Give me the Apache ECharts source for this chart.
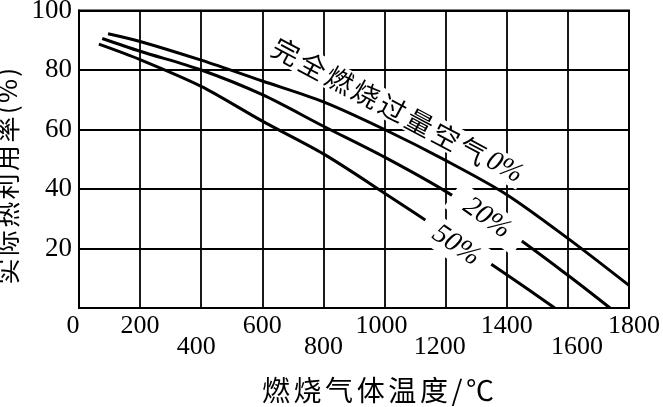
<!DOCTYPE html>
<html>
<head>
<meta charset="utf-8">
<script src="https://cdn.jsdelivr.net/npm/echarts@6/dist/echarts.min.js"></script>
<style>
html,body{margin:0;padding:0;background:#fff;}
#chart{width:663px;height:407px;}
</style>
</head>
<body>
<div id="chart"></div>
<script>
// ---- data ----
const xTicks = [0, 200, 400, 600, 800, 1000, 1200, 1400, 1600, 1800];
const xTicksLowerRow = [400, 800, 1200, 1600];
const yTicks = [20, 40, 60, 80, 100];

const excess0X = [95, 200, 400, 600, 800, 1000, 1200, 1400, 1600, 1800];
const excess0Y = [92.2, 89.6, 83.3, 76.3, 69.3, 60.0, 49.6, 38.1, 23.4, 7.6];

const excess20X = [76, 200, 400, 600, 800, 1000, 1200, 1413, 1600, 1738];
const excess20Y = [90.6, 86.3, 80.0, 71.7, 61.1, 50.7, 39.2, 25.1, 11.0, 0];

const excess50X = [65, 200, 400, 600, 800, 1000, 1200, 1400, 1557];
const excess50Y = [88.7, 83.5, 74.5, 62.8, 51.8, 38.6, 25.0, 11.2, 0];

const curveLabels = ['完全燃烧过量空气', '0%', '20%', '50%'];
const labelAnchorX = [1040, 1335, 1234];
const labelAnchorY = [66.4, 30.2, 21.0];

const xAxisTitle = '燃烧气体温度/℃';
const yAxisTitle = '实际热利用率(%)';

// ---- styling ----
const NUM_FONT = '"Liberation Serif", "Times New Roman", serif';
const CJK_FONT = '"Noto Sans CJK SC", sans-serif';
const xLabelShift = {0: -6, 400: -5, 1000: -3, 1200: -6, 1600: 9, 1800: 5};

const pairs = (xs, ys) => xs.map((x, i) => [x, ys[i]]);

const xRich = {};
xTicks.forEach(v => {
  const s = xLabelShift[v] || 0;
  xRich['t' + v] = {
    fontFamily: NUM_FONT, fontSize: 26, color: '#000',
    padding: [xTicksLowerRow.includes(v) ? 21 : 0, s < 0 ? -2 * s : 0, 0, s > 0 ? 2 * s : 0]
  };
});

function spaced(str, style) {
  return Array.from(str).map(c => '{' + style + '|' + c + '}').join('');
}

const chart = echarts.init(document.getElementById('chart'), null, {renderer: 'canvas'});

const lineStyleCurve = {color: '#000', width: 3};
const hiddenItem = {color: '#fff', opacity: 1};

const option = {
  backgroundColor: '#fff',
  animation: false,
  grid: {left: 79, right: 34, top: 10.5, bottom: 99, containLabel: false, outerBoundsMode: 'none',
         show: true, borderColor: '#000', borderWidth: 2},
  xAxis: {
    type: 'value', min: 0, max: 1800, interval: 200,
    axisLine: {show: true, lineStyle: {color: '#000', width: 2}},
    axisTick: {show: false},
    splitLine: {show: true, lineStyle: {color: '#000', width: 1.8}},
    axisLabel: {
      margin: 5,
      formatter: v => '{t' + v + '|' + v + '}',
      rich: xRich
    },
    name: spaced(xAxisTitle, 'n'),
    nameLocation: 'middle',
    nameGap: 68,
    nameTextStyle: {
      padding: [0, 0, 0, 48],
      rich: {n: {fontFamily: CJK_FONT, fontSize: 28, color: '#000', padding: [0, 1.8, 0, 1.8]}}
    }
  },
  yAxis: {
    type: 'value', min: 0, max: 100, interval: 20,
    axisLine: {show: true, lineStyle: {color: '#000', width: 2}},
    axisTick: {show: false},
    splitLine: {show: true, lineStyle: {color: '#000', width: 1.8}},
    axisLabel: {
      margin: 7,
      fontFamily: NUM_FONT, fontSize: 27, color: '#000',
      formatter: v => (yTicks.includes(v) ? String(v) : '')
    },
    name: spaced(yAxisTitle, 'n'),
    nameLocation: 'middle',
    nameGap: 49,
    nameTextStyle: {
      padding: [0, 34, 0, 0],
      rich: {n: {fontFamily: CJK_FONT, fontSize: 26, color: '#000', padding: [0, 1.2, 0, 1.2]}}
    }
  },
  series: [
    {type: 'line', data: pairs(excess0X, excess0Y), smooth: 0.3, symbol: 'none', lineStyle: lineStyleCurve, z: 2},
    {type: 'line', data: pairs(excess20X, excess20Y), smooth: 0.3, symbol: 'none', lineStyle: lineStyleCurve, z: 2},
    {type: 'line', data: pairs(excess50X, excess50Y), smooth: 0.3, symbol: 'none', lineStyle: lineStyleCurve, z: 2},
    {
      type: 'scatter', z: 1, symbolSize: 0, itemStyle: hiddenItem, silent: true,
      data: [[labelAnchorX[0], labelAnchorY[0]]],
      label: {
        show: true, position: 'inside', rotate: -28, opacity: 1,
        backgroundColor: '#fff', padding: [0, 2, 0, 2],
        formatter: () => spaced(curveLabels[0], 'c') + '{p|' + curveLabels[1] + '}',
        rich: {
          c: {fontFamily: CJK_FONT, fontSize: 27, color: '#000', padding: [0, 1.6, 0, 1.6]},
          p: {fontFamily: NUM_FONT, fontSize: 28, fontStyle: 'italic', color: '#000', padding: [0, 0, 0, 2]}
        }
      }
    },
    {
      type: 'scatter', z: 3, symbolSize: 0, itemStyle: hiddenItem, silent: true,
      data: [[labelAnchorX[1], labelAnchorY[1]]],
      label: {
        show: true, position: 'inside', rotate: -35, opacity: 1,
        backgroundColor: '#fff', padding: [2, 16, 2, 16],
        formatter: () => curveLabels[2],
        fontFamily: NUM_FONT, fontSize: 28, fontStyle: 'italic', color: '#000'
      }
    },
    {
      type: 'scatter', z: 3, symbolSize: 0, itemStyle: hiddenItem, silent: true,
      data: [[labelAnchorX[2], labelAnchorY[2]]],
      label: {
        show: true, position: 'inside', rotate: -34, opacity: 1,
        backgroundColor: '#fff', padding: [2, 14, 2, 14],
        formatter: () => curveLabels[3],
        fontFamily: NUM_FONT, fontSize: 28, fontStyle: 'italic', color: '#000'
      }
    }
  ]
};
chart.setOption(option);
</script>
</body>
</html>
